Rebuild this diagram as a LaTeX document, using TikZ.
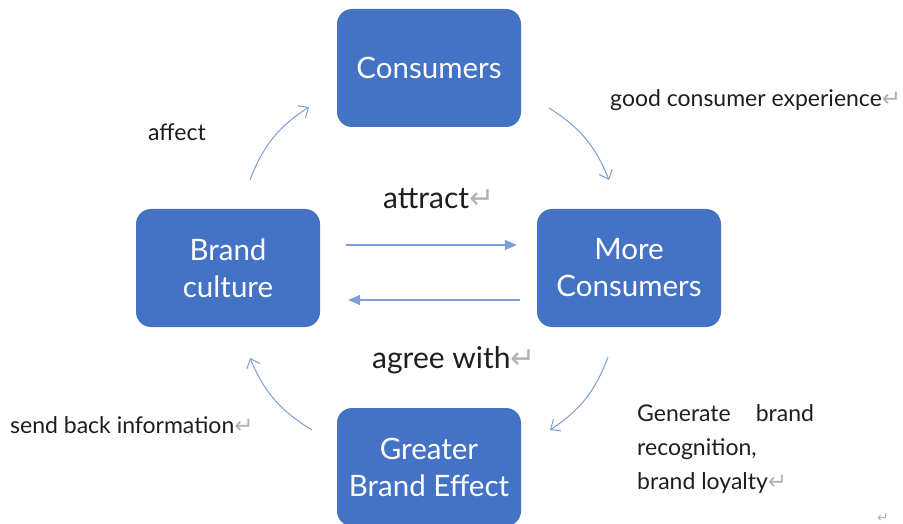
\documentclass[tikz,border=0pt]{standalone}
\usepackage{fontspec}
\setmainfont{Lato}
\newfontfamily\symfont{DejaVu Sans}
\usetikzlibrary{arrows.meta}
\definecolor{boxblue}{RGB}{68,114,196}
\definecolor{linkblue}{RGB}{125,157,216}
\definecolor{inkgray}{RGB}{30,30,30}
\newcommand{\retmark}{{\symfont\color{gray!60}\char"21B5}}
\begin{document}
\begin{tikzpicture}[x=1pt,y=-1pt,
  stage/.style={fill=boxblue,text=white,rounded corners=15pt,minimum width=184pt,
    minimum height=118pt,inner sep=0pt,align=center,font=\fontsize{29.5}{37}\selectfont},
  note/.style={text=inkgray,inner sep=0pt,font=\fontsize{23}{34}\selectfont},
  bignote/.style={note,font=\fontsize{30}{34}\selectfont},
  flow/.style={draw=linkblue,line width=1pt,-{Straight Barb[length=8pt,width=14pt]}},
  push/.style={draw=linkblue,line width=1.3pt,-{Triangle[length=12pt,width=10pt]}}]
\useasboundingbox (0,0) rectangle (903,524);
% the four stages
\node[stage] (cons) at (429,68) {Consumers};
\node[stage] (culture) at (228,268) {Brand\\culture};
\node[stage] (more) at (629,268) {More\\Consumers};
\node[stage] (effect) at (429,467) {Greater\\Brand Effect};
% ends of the curved links
\coordinate (affA) at (250,180);
\coordinate (affB) at (309,107);
\coordinate (expA) at (549,108);
\coordinate (expB) at (609,180);
\coordinate (genA) at (608,357);
\coordinate (genB) at (550,430);
\coordinate (sendA) at (312,430);
\coordinate (sendB) at (250,358);
\draw[flow] (affA) to[bend left=18] (affB);
\draw[flow] (expA) to[bend left=18] (expB);
\draw[flow] (genA) to[bend left=18] (genB);
\draw[flow] (sendA) to[bend left=18] (sendB);
% straight links between culture and more consumers
\draw[push,shorten <=26pt,shorten >=20pt] ([yshift=23pt]culture.east) -- ([yshift=23pt]more.west);
\draw[push,shorten <=17pt,shorten >=28pt] ([yshift=-32pt]more.west) -- ([yshift=-32pt]culture.east);
% texts
\node[note,anchor=base west] (affect) at (148,141) {affect};
\node[note,anchor=base west] (goodexp) at (610,107) {good consumer experience\retmark};
\node[bignote,anchor=base west] (attract) at (383,208) {attract\retmark};
\node[bignote,anchor=base west] (agree) at (372,368) {agree with\retmark};
\node[note,anchor=base west] (sendback) at (10,433) {send back information\retmark};
\node[note,anchor=west,align=left] (generate) at (637,449) {Generate\hspace{25pt}brand\\recognition,\\brand loyalty\retmark};
\node[inner sep=0pt,font=\fontsize{14}{14}\selectfont] (endmark) at (883,518) {\retmark};
\end{tikzpicture}
\end{document}
